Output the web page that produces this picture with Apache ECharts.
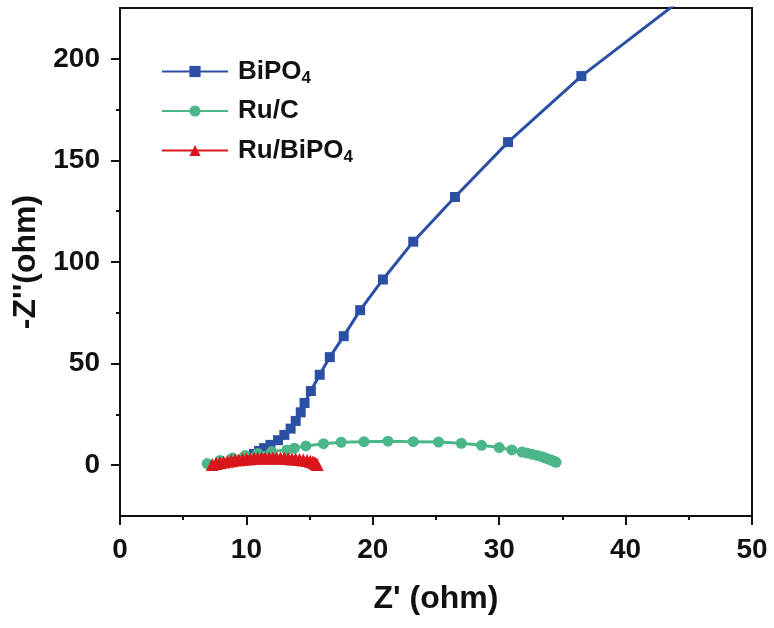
<!DOCTYPE html>
<html>
<head>
<meta charset="utf-8">
<script src="https://cdn.jsdelivr.net/npm/echarts@6/dist/echarts.min.js"></script>
<style>html,body{margin:0;padding:0;background:#fff;}#c{width:774px;height:628px;}</style>
</head>
<body>
<div id="c"></div>
<script>
// Series names
var seriesNames = ['BiPO4', 'Ru/C', 'Ru/BiPO4'];
// BiPO4 data [Z', -Z'']
var bipo4 = [[10.6,5.5],[11.0,7.0],[11.4,8.4],[11.9,10.0],[12.5,12.3],[13.0,14.9],[13.5,18.0],[13.9,21.8],[14.3,26.0],[14.6,30.6],[15.1,36.5],[15.8,44.5],[16.6,53.2],[17.7,63.5],[19.0,76.3],[20.8,91.4],[23.2,110.0],[26.5,132.0],[30.7,159.0],[36.5,191.5],[45.0,232.0]];
// Ru/C data
var ruc = [[6.9,0.8],[7.9,2.3],[8.9,3.6],[9.9,4.8],[10.9,5.8],[12.0,6.7],[13.2,7.5],[13.8,8.4],[14.7,9.5],[16.1,10.6],[17.5,11.3],[19.3,11.6],[21.2,11.8],[23.2,11.6],[25.2,11.4],[27.0,10.8],[28.6,9.8],[30.0,8.7],[31.0,7.5],[31.8,6.5],[32.2,6.0],[32.6,5.4],[33.0,4.8],[33.4,4.1],[33.7,3.4],[34.0,2.8],[34.2,2.3],[34.4,1.8],[34.5,1.4]];
// Ru/BiPO4 data
var rubipo4 = [[7.3,0.3],[7.6,0.8],[7.9,1.2],[8.2,1.6],[8.5,1.9],[8.8,2.2],[9.1,2.5],[9.4,2.7],[9.7,2.9],[10.0,3.1],[10.3,3.2],[10.6,3.4],[10.9,3.5],[11.2,3.5],[11.5,3.6],[11.8,3.6],[12.1,3.6],[12.4,3.5],[12.7,3.5],[13.0,3.4],[13.3,3.3],[13.6,3.1],[13.9,3.0],[14.2,2.8],[14.5,2.6],[14.8,2.3],[15.05,2.0],[15.25,1.6],[15.4,1.2],[15.5,0.8],[15.6,0.4]];
// Tick values
var yMajorTicks = [0, 50, 100, 150, 200];
var yMinorTicks = [25, 75, 125, 175];

var FONT = "'Liberation Sans', Arial, sans-serif";
var chart = echarts.init(document.getElementById('c'), null, {renderer: 'canvas'});

function legendFmt(name) {
  if (name === 'BiPO4') return '{a|BiPO}{s|4}';
  if (name === 'Ru/BiPO4') return '{a|Ru/BiPO}{s|4}';
  return '{a|' + name + '}';
}

var option = {
  backgroundColor: '#fff',
  animation: false,
  grid: {left: 120, right: 22, top: 8, bottom: 112, show: true, borderColor: '#111', borderWidth: 2, backgroundColor: 'transparent'},
  legend: {
    data: seriesNames,
    orient: 'vertical',
    left: 156,
    top: 51,
    itemWidth: 66,
    itemHeight: 14,
    itemGap: 11,
    formatter: legendFmt,
    textStyle: {
      fontFamily: FONT, fontWeight: 'bold', color: '#111',
      rich: {
        a: {fontSize: 26, fontWeight: 'bold', fontFamily: FONT, color: '#111', lineHeight: 30, padding: [0, 0, 0, 5]},
        s: {fontSize: 17, fontWeight: 'bold', fontFamily: FONT, color: '#111', lineHeight: 30, padding: [14, 0, 0, 0]}
      }
    }
  },
  xAxis: [{
    type: 'value', min: 0, max: 50, interval: 10,
    name: "Z' (ohm)", nameLocation: 'middle', nameGap: 67,
    nameTextStyle: {fontFamily: FONT, fontWeight: 'bold', fontSize: 32, color: '#111'},
    axisLine: {show: true, onZero: false, lineStyle: {color: '#111', width: 2}},
    axisTick: {show: true, inside: false, length: 9, lineStyle: {color: '#111', width: 2}},
    minorTick: {show: true, splitNumber: 2, length: 4, lineStyle: {color: '#111', width: 2}},
    axisLabel: {fontFamily: FONT, fontWeight: 'bold', fontSize: 28, color: '#111', margin: 20},
    splitLine: {show: false}, minorSplitLine: {show: false}
  }],
  yAxis: [{
    type: 'value', min: -25, max: 225, interval: 25,
    name: "-Z''(ohm)", nameLocation: 'middle', nameGap: 72, nameRotate: 90,
    nameTextStyle: {fontFamily: FONT, fontWeight: 'bold', fontSize: 32, color: '#111'},
    axisLine: {show: true, onZero: false, lineStyle: {color: '#111', width: 2}},
    axisTick: {show: true, inside: false, length: 9, customValues: yMajorTicks, lineStyle: {color: '#111', width: 2}},
    axisLabel: {fontFamily: FONT, fontWeight: 'bold', fontSize: 28, color: '#111', margin: 20, customValues: yMajorTicks},
    splitLine: {show: false}
  }, {
    type: 'value', min: -25, max: 225, interval: 25, position: 'left',
    axisLine: {show: false},
    axisTick: {show: true, inside: false, length: 4, customValues: yMinorTicks, lineStyle: {color: '#111', width: 2}},
    axisLabel: {show: false},
    splitLine: {show: false}
  }],
  series: [{
    name: 'BiPO4', type: 'line', data: bipo4, symbol: 'rect', symbolSize: 10,
    lineStyle: {color: '#2c4fa6', width: 3}, itemStyle: {color: '#2c4fa6'}, clip: true, z: 2
  }, {
    name: 'Ru/C', type: 'line', data: ruc, symbol: 'circle', symbolSize: 11,
    lineStyle: {color: '#4cb68b', width: 3}, itemStyle: {color: '#4cb68b'}, clip: true, z: 3
  }, {
    name: 'Ru/BiPO4', type: 'line', data: rubipo4, symbol: 'triangle', symbolSize: 13,
    lineStyle: {color: '#d9161c', width: 3}, itemStyle: {color: '#d9161c'}, clip: true, z: 4
  }]
};
chart.setOption(option);
</script>
</body>
</html>
